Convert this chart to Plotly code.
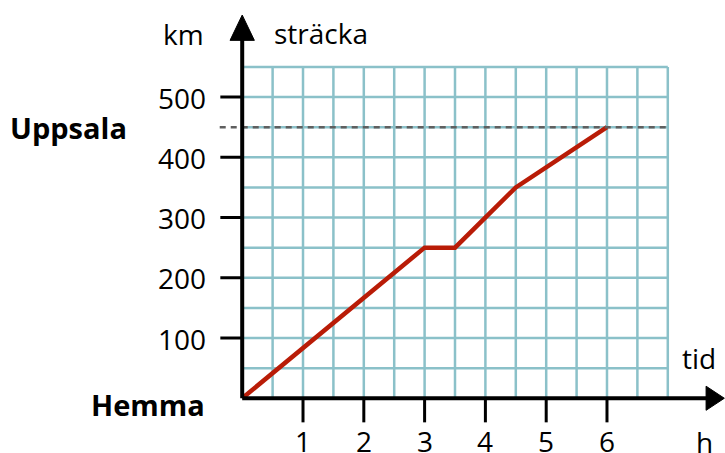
import plotly.graph_objects as go

# travel: time (h) vs distance (km)
tid_h = [0, 3, 3.5, 4.5, 6]
stracka_km = [0, 250, 250, 350, 450]

x_ticks = [1, 2, 3, 4, 5, 6]
y_ticks = [100, 200, 300, 400, 500]
x_grid = [0.5 * i for i in range(1, 15)]
y_grid = [50 * i for i in range(1, 12)]
uppsala_km = 450

FONT = "Open Sans"
GRID = "#8BC1C9"
RED = "#B91C07"

fig = go.Figure()

shapes = []
for gx in x_grid:
    shapes.append(dict(type="line", x0=gx, x1=gx, y0=0, y1=550,
                       line=dict(color=GRID, width=2.5), layer="below"))
for gy in y_grid:
    shapes.append(dict(type="line", x0=0, x1=7, y0=gy, y1=gy,
                       line=dict(color=GRID, width=2.5), layer="below"))

# dashed Uppsala line
shapes.append(dict(type="line", x0=-0.37, x1=7, y0=uppsala_km, y1=uppsala_km,
                   line=dict(color="#5f5f5f", width=2.5, dash="6px,5px")))

# tick marks
for t in x_ticks:
    shapes.append(dict(type="line", x0=t, x1=t, y0=0, y1=-40,
                       line=dict(color="black", width=3)))
for t in y_ticks:
    shapes.append(dict(type="line", x0=-0.36, x1=0, y0=t, y1=t,
                       line=dict(color="black", width=3)))

# axes with arrow heads
shapes.append(dict(type="line", x0=0, x1=7.65, y0=0, y1=0,
                   line=dict(color="black", width=4)))
shapes.append(dict(type="line", x0=0, x1=0, y0=0, y1=600,
                   line=dict(color="black", width=4)))
shapes.append(dict(type="path", path="M 7.93 0 L 7.63 20 L 7.63 -20 Z",
                   fillcolor="black", line=dict(color="black", width=1)))
shapes.append(dict(type="path", path="M 0 636 L -0.2 594 L 0.2 594 Z",
                   fillcolor="black", line=dict(color="black", width=1)))

fig.add_trace(go.Scatter(
    x=tid_h, y=stracka_km, mode="lines",
    line=dict(color=RED, width=4.5), showlegend=False, hoverinfo="skip",
))

annotations = []
for t in x_ticks:
    annotations.append(dict(x=t, y=-71, text=str(t), showarrow=False,
                            xanchor="center", yanchor="middle",
                            font=dict(family=FONT, size=28, color="black")))
for t in y_ticks:
    annotations.append(dict(x=-0.57, y=t - 1, text=str(t), showarrow=False,
                            xanchor="right", yanchor="middle",
                            font=dict(family=FONT, size=28, color="black")))

labels = [
    ("km", -0.97, 605, False),
    ("sträcka", 1.29, 607, False),
    ("Uppsala", -2.86, 450, True),
    ("Hemma", -1.55, -10, True),
    ("tid", 7.51, 66, False),
    ("h", 7.61, -73, False),
]
for txt, lx, ly, bold in labels:
    annotations.append(dict(x=lx, y=ly, text=f"<b>{txt}</b>" if bold else txt,
                            showarrow=False, xanchor="center", yanchor="middle",
                            font=dict(family=FONT, size=29 if bold else 28,
                                      color="black")))

fig.update_layout(
    width=725, height=453,
    margin=dict(l=0, r=0, t=0, b=0),
    plot_bgcolor="white", paper_bgcolor="white",
    shapes=shapes, annotations=annotations,
    xaxis=dict(range=[-3.984, 7.941], visible=False, fixedrange=True),
    yaxis=dict(range=[-90.87, 661.0], visible=False, fixedrange=True),
)

fig.write_html("out.html", config={"displayModeBar": False},
               post_script="document.body.style.margin='0';")
